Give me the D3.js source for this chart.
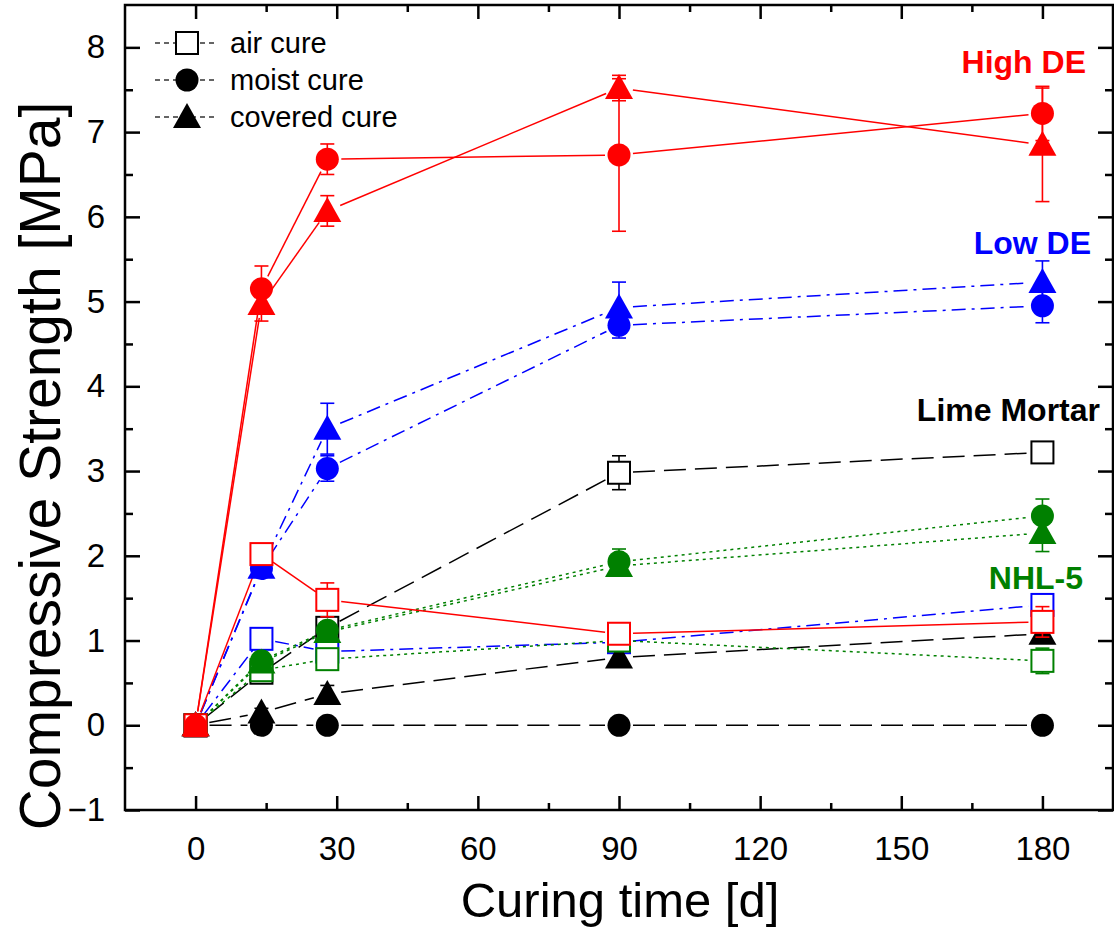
<!DOCTYPE html>
<meta charset="utf-8">
<style>
body { margin: 0; background: #fff; }
svg { font-family: 'Liberation Sans', Arial, sans-serif; }
.tick text { font-size: 33px; fill: #000; }
.axis line { stroke: #000; stroke-width: 2.5; }
.lbl { font-size: 32px; font-weight: bold; }
.leg { font-size: 29px; }
</style>
<body>
<div id="chart"></div>
<script src="https://cdn.jsdelivr.net/npm/d3@7"></script>
<script>
// curing days
var days = [0, 14, 28, 90, 180];

// High DE (red, solid)
var highAir = [0, 2.02, 1.48, 1.08, 1.22];
var highAirErr = [0, 0.08, 0.2, 0.08, 0.18];
var highMoist = [0, 5.15, 6.68, 6.73, 7.22];
var highMoistErr = [0, 0.27, 0.18, 0.9, 0.32];
var highCov = [0, 4.97, 6.07, 7.52, 6.85];
var highCovErr = [0, 0.2, 0.18, 0.15, 0.67];

// Low DE (blue, dash-dot)
var lowAir = [0, 1.02, 0.87, 0.98, 1.42];
var lowAirErr = [0, 0.1, 0.1, 0.08, 0.12];
var lowMoist = [0, 1.85, 3.03, 4.72, 4.95];
var lowMoistErr = [0, 0.1, 0.15, 0.15, 0.2];
var lowCov = [0, 1.86, 3.5, 4.93, 5.23];
var lowCovErr = [0, 0.1, 0.3, 0.3, 0.25];

// Lime Mortar (black, long dash)
var limeAir = [0, 0.62, 1.15, 2.98, 3.22];
var limeAirErr = [0, 0.08, 0.1, 0.2, 0.08];
var limeMoist = [0, 0, 0, 0, 0];
var limeMoistErr = [0, 0, 0, 0, 0];
var limeCov = [0, 0.15, 0.37, 0.8, 1.08];
var limeCovErr = [0, 0.05, 0.1, 0.1, 0.1];

// NHL-5 (green, dotted)
var nhlAir = [0, 0.65, 0.78, 1.0, 0.76];
var nhlAirErr = [0, 0.1, 0.1, 0.08, 0.15];
var nhlMoist = [0, 0.76, 1.12, 1.93, 2.47];
var nhlMoistErr = [0, 0.1, 0.1, 0.15, 0.2];
var nhlCov = [0, 0.74, 1.1, 1.88, 2.27];
var nhlCovErr = [0, 0.1, 0.1, 0.12, 0.22];

var xTicks = [0, 30, 60, 90, 120, 150, 180];
var yTicks = [-1, 0, 1, 2, 3, 4, 5, 6, 7, 8];

var W = 1114, H = 932;
var svg = d3.select('#chart').append('svg').attr('width', W).attr('height', H);

var x = d3.scaleLinear().domain([-15, 195]).range([125, 1113]);
var y = d3.scaleLinear().domain([-1, 8.5]).range([810, 5]);

// axes (ticks inward on all four sides)
var gl = svg.append('g').attr('class', 'axis').attr('transform', 'translate(125,0)');
gl.call(d3.axisLeft(y).tickValues(yTicks).tickSize(-15).tickPadding(20).tickFormat(d3.format('d')));
gl.append('g').call(d3.axisLeft(y).tickValues(d3.range(-0.5, 8.5, 1)).tickSize(-8).tickFormat(''));
var gb = svg.append('g').attr('class', 'axis').attr('transform', 'translate(0,810)');
gb.call(d3.axisBottom(x).tickValues(xTicks).tickSize(-14).tickPadding(27));
gb.append('g').call(d3.axisBottom(x).tickValues(d3.range(15, 195, 30)).tickSize(-7).tickFormat(''));
var gt = svg.append('g').attr('class', 'axis').attr('transform', 'translate(0,5)');
gt.call(d3.axisTop(x).tickValues(xTicks).tickSize(-14).tickFormat(''));
gt.append('g').call(d3.axisTop(x).tickValues(d3.range(15, 195, 30)).tickSize(-7).tickFormat(''));
var gr = svg.append('g').attr('class', 'axis').attr('transform', 'translate(1113,0)');
gr.call(d3.axisRight(y).tickValues(yTicks).tickSize(-15).tickFormat(''));
gr.append('g').call(d3.axisRight(y).tickValues(d3.range(-0.5, 8.5, 1)).tickSize(-8).tickFormat(''));
svg.selectAll('.axis .domain').remove();
svg.selectAll('.axis text').attr('font-family', null).attr('font-size', null);

svg.append('rect').attr('x', 125).attr('y', 5).attr('width', 988).attr('height', 805)
  .attr('fill', 'none').attr('stroke', '#000').attr('stroke-width', 2.5);

// axis titles
svg.append('text').attr('x', 620).attr('y', 917).attr('text-anchor', 'middle')
  .style('font-size', '49px').text('Curing time [d]');
svg.append('text').attr('transform', 'translate(60,466) rotate(-90)').attr('text-anchor', 'middle')
  .style('font-size', '57px').text('Compressive Strength [MPa]');

var red = '#ff0000', blue = '#0000ff', black = '#000000', green = '#008000';
var dashes = { solid: null, dashdot: '14,6,3,6', dash: '22,9', dot: '3,4' };

var series = [
  { v: lowAir, e: lowAirErr, c: blue, s: 'square', d: 'dashdot' },
  { v: lowMoist, e: lowMoistErr, c: blue, s: 'circle', d: 'dashdot' },
  { v: lowCov, e: lowCovErr, c: blue, s: 'triangle', d: 'dashdot' },
  { v: limeAir, e: limeAirErr, c: black, s: 'square', d: 'dash' },
  { v: limeMoist, e: limeMoistErr, c: black, s: 'circle', d: 'dash' },
  { v: limeCov, e: limeCovErr, c: black, s: 'triangle', d: 'dash' },
  { v: nhlAir, e: nhlAirErr, c: green, s: 'square', d: 'dot' },
  { v: nhlMoist, e: nhlMoistErr, c: green, s: 'circle', d: 'dot' },
  { v: nhlCov, e: nhlCovErr, c: green, s: 'triangle', d: 'dot' },
  { v: highAir, e: highAirErr, c: red, s: 'square', d: 'solid' },
  { v: highMoist, e: highMoistErr, c: red, s: 'circle', d: 'solid' },
  { v: highCov, e: highCovErr, c: red, s: 'triangle', d: 'solid' }
];

function marker(g, kind, col) {
  if (kind === 'circle') g.append('circle').attr('r', 11.5).attr('fill', col);
  else if (kind === 'square') g.append('rect').attr('x', -11).attr('y', -11).attr('width', 22).attr('height', 22)
    .attr('fill', '#fff').attr('stroke', col).attr('stroke-width', 2);
  else g.append('path').attr('d', 'M0,-14L14,11L-14,11Z').attr('fill', col);
}

// connecting lines with gaps at symbols
var gap = 14;
series.forEach(function(sr) {
  for (var i = 0; i < days.length - 1; i++) {
    var x1 = x(days[i]), y1 = y(sr.v[i]), x2 = x(days[i + 1]), y2 = y(sr.v[i + 1]);
    var len = Math.hypot(x2 - x1, y2 - y1);
    if (len <= 2 * gap) continue;
    var ux = (x2 - x1) / len, uy = (y2 - y1) / len;
    svg.append('line')
      .attr('x1', x1 + ux * gap).attr('y1', y1 + uy * gap)
      .attr('x2', x2 - ux * gap).attr('y2', y2 - uy * gap)
      .attr('stroke', sr.c).attr('stroke-width', 1.5)
      .attr('stroke-dasharray', dashes[sr.d]);
  }
});

series.forEach(function(sr) {
  days.forEach(function(dd, i) {
    if (sr.e[i] > 0) {
      var px = x(dd), lo = y(sr.v[i] - sr.e[i]), hi = y(sr.v[i] + sr.e[i]);
      var eb = svg.append('g').attr('stroke', sr.c).attr('stroke-width', 1.6);
      eb.append('line').attr('x1', px).attr('x2', px).attr('y1', lo).attr('y2', hi);
      eb.append('line').attr('x1', px - 7).attr('x2', px + 7).attr('y1', lo).attr('y2', lo);
      eb.append('line').attr('x1', px - 7).attr('x2', px + 7).attr('y1', hi).attr('y2', hi);
    }
    var g = svg.append('g').attr('transform', 'translate(' + x(dd) + ',' + y(sr.v[i]) + ')');
    marker(g, sr.s, sr.c);
  });
});

// legend
var legItems = [['square', 'air cure'], ['circle', 'moist cure'], ['triangle', 'covered cure']];
legItems.forEach(function(it, i) {
  var ly = 43 + i * 37;
  svg.append('line').attr('x1', 155).attr('x2', 215).attr('y1', ly).attr('y2', ly)
    .attr('stroke', '#333').attr('stroke-width', 1.3).attr('stroke-dasharray', '5,4');
  var g = svg.append('g').attr('transform', 'translate(187,' + ly + ')');
  marker(g, it[0], '#000');
  svg.append('text').attr('class', 'leg').attr('x', 230).attr('y', ly + 10).text(it[1]);
});

// material labels
svg.append('text').attr('class', 'lbl').attr('x', 1086).attr('y', 73).attr('text-anchor', 'end').attr('fill', red).text('High DE');
svg.append('text').attr('class', 'lbl').attr('x', 1091).attr('y', 254).attr('text-anchor', 'end').attr('fill', blue).text('Low DE');
svg.append('text').attr('class', 'lbl').attr('x', 1100).attr('y', 421).attr('text-anchor', 'end').attr('fill', black).text('Lime Mortar');
svg.append('text').attr('class', 'lbl').attr('x', 1083).attr('y', 589).attr('text-anchor', 'end').attr('fill', green).text('NHL-5');
</script>
</body>
